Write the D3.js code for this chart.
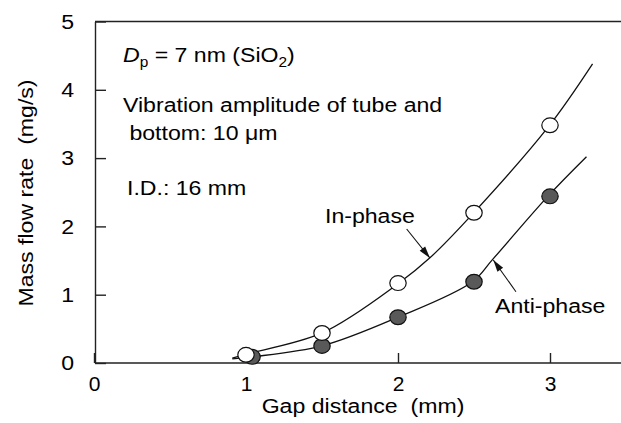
<!DOCTYPE html>
<html>
<head>
<meta charset="utf-8">
<script src="https://cdn.jsdelivr.net/npm/d3@7"></script>
<style>
  body { margin: 0; background: #fff; }
  text { font-family: "Liberation Sans", Arial, sans-serif; fill: #000; white-space: pre; }
</style>
</head>
<body>
<script>
var WIDTH = 621,
    HEIGHT = 423,
    FONT = 21,
    STRETCH = 1.1;

// measured points
var gapX = [1.0, 1.5, 2.0, 2.5, 3.0];
var inPhase = [0.12, 0.44, 1.17, 2.2, 3.48];
var antiX = [1.04, 1.5, 2.0, 2.5, 3.0];
var antiPhase = [0.09, 0.25, 0.67, 1.19, 2.44];

// fitted curves
var inCurveX = [0.91, 1.0, 1.5, 2.0, 2.21, 2.49, 2.99, 3.28];
var inCurveY = [0.07, 0.13, 0.44, 1.16, 1.54, 2.18, 3.46, 4.38];
var antiCurveX = [0.91, 1.04, 1.5, 2.0, 2.49, 2.62, 2.99, 3.24];
var antiCurveY = [0.06, 0.09, 0.25, 0.67, 1.19, 1.51, 2.45, 3.02];

var xTicks = [0, 1, 2, 3];
var yTicks = [0, 1, 2, 3, 4, 5];

var svg = d3.select('body').append('svg')
    .attr('width', WIDTH)
    .attr('height', HEIGHT);

var x = d3.scaleLinear().domain([0, 3.5]).range([94, 626]);
var y = d3.scaleLinear().domain([0, 5]).range([363, 21.5]);

function addText(g, px, py, str, anchor) {
    return g.append('text')
        .attr('transform', 'translate(' + px + ',' + py + ') scale(' + STRETCH + ',1)')
        .attr('text-anchor', anchor || 'start')
        .style('font-size', FONT + 'px')
        .text(str);
}

// axes
var yAxis = svg.append('g')
    .attr('transform', 'translate(95,0)')
    .call(d3.axisLeft(y).tickValues(yTicks).tickFormat(d3.format('d'))
        .tickSizeInner(-11).tickSizeOuter(0).tickPadding(21));

var xAxis = svg.append('g')
    .attr('transform', 'translate(0,363)')
    .call(d3.axisBottom(x).tickValues(xTicks).tickFormat(d3.format('d'))
        .tickSizeInner(-10).tickSizeOuter(0).tickPadding(13));

[yAxis, xAxis].forEach(function(a) {
    a.selectAll('path, line').attr('stroke', '#222').attr('stroke-width', 1.4);
    a.selectAll('text')
        .style('font-size', FONT + 'px')
        .style('font-family', '"Liberation Sans", Arial, sans-serif')
        .attr('fill', '#000');
});
xAxis.select('.domain').attr('d', 'M95,0H621');
yAxis.selectAll('.tick text')
    .attr('transform', 'scale(' + STRETCH + ',1)')
    .attr('x', -21 / STRETCH);

svg.append('line')
    .attr('x1', 95).attr('x2', 621)
    .attr('y1', y(5)).attr('y2', y(5))
    .attr('stroke', '#222').attr('stroke-width', 1.4);

// axis titles
addText(svg, 363, 413, 'Gap distance  (mm)', 'middle');
svg.append('text')
    .attr('transform', 'translate(33,193) rotate(-90) scale(' + STRETCH + ',1)')
    .attr('text-anchor', 'middle')
    .style('font-size', FONT + 'px')
    .text('Mass flow rate  (mg/s)');

// curves
var line = d3.line()
    .x(d => x(d[0]))
    .y(d => y(d[1]))
    .curve(d3.curveCatmullRom.alpha(0.5));

[[inCurveX, inCurveY], [antiCurveX, antiCurveY]].forEach(function(c) {
    svg.append('path')
        .datum(c[0].map((v, i) => [v, c[1][i]]))
        .attr('d', line)
        .attr('fill', 'none')
        .attr('stroke', '#111')
        .attr('stroke-width', 1.3);
});

// markers
svg.selectAll('ellipse.anti')
    .data(antiX.map((v, i) => [v, antiPhase[i]]))
    .enter()
    .append('ellipse')
    .attr('class', 'anti')
    .attr('cx', d => x(d[0]))
    .attr('cy', d => y(d[1]))
    .attr('rx', 8.2).attr('ry', 7.4)
    .attr('fill', '#595959')
    .attr('stroke', '#111')
    .attr('stroke-width', 1.2);

svg.selectAll('ellipse.in')
    .data(gapX.map((v, i) => [v, inPhase[i]]))
    .enter()
    .append('ellipse')
    .attr('class', 'in')
    .attr('cx', d => x(d[0]))
    .attr('cy', d => y(d[1]))
    .attr('rx', 8.2).attr('ry', 7.4)
    .attr('fill', '#fff')
    .attr('stroke', '#111')
    .attr('stroke-width', 1.2);

// arrows
svg.append('defs').append('marker')
    .attr('id', 'head')
    .attr('viewBox', '0 0 12 8')
    .attr('refX', 12).attr('refY', 4)
    .attr('markerWidth', 13).attr('markerHeight', 8)
    .attr('markerUnits', 'userSpaceOnUse')
    .attr('orient', 'auto')
    .append('path')
    .attr('d', 'M0,0.5L12,4L0,7.5Z')
    .attr('fill', '#111');

var arrows = [
    [[2.057, 1.962], [2.21, 1.537]],
    [[2.776, 1.044], [2.627, 1.508]]
];
arrows.forEach(function(a) {
    svg.append('line')
        .attr('x1', x(a[0][0])).attr('y1', y(a[0][1]))
        .attr('x2', x(a[1][0])).attr('y2', y(a[1][1]))
        .attr('stroke', '#111')
        .attr('stroke-width', 1.1)
        .attr('marker-end', 'url(#head)');
});

addText(svg, 325, 223, 'In-phase');
addText(svg, 495, 313, 'Anti-phase');

// notes
var dp = svg.append('text')
    .attr('transform', 'translate(123,62) scale(' + STRETCH + ',1)')
    .style('font-size', FONT + 'px');
dp.append('tspan').style('font-style', 'italic').text('D');
dp.append('tspan').attr('dy', 5).style('font-size', '14px').text('p');
dp.append('tspan').attr('dy', -5).text(' = 7 nm (SiO');
dp.append('tspan').attr('dy', 5).style('font-size', '14px').text('2');
dp.append('tspan').attr('dy', -5).text(')');

addText(svg, 123, 112, 'Vibration amplitude of tube and');
addText(svg, 123, 140, ' bottom: 10 \u03bcm');
addText(svg, 127, 195, 'I.D.: 16 mm');
</script>
</body>
</html>
